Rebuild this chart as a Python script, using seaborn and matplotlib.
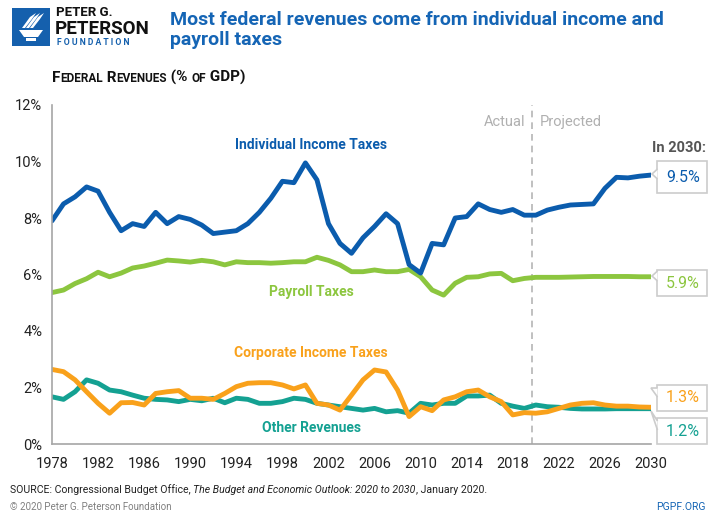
import numpy as np
import pandas as pd
import seaborn as sns
import matplotlib.pyplot as plt
from matplotlib.patches import Rectangle, Polygon

# --- Data (% of GDP) ---
years = list(range(1978, 2031))

individual = [7.9, 8.5, 8.75, 9.1, 8.95, 8.2, 7.55, 7.8, 7.7, 8.2, 7.8, 8.05, 7.95, 7.75,
              7.45, 7.5, 7.55, 7.8, 8.2, 8.7, 9.3, 9.25, 9.95, 9.35, 7.8, 7.1, 6.75,
              7.3, 7.7, 8.15, 7.8, 6.35, 6.05, 7.1, 7.05, 8.0, 8.05, 8.5, 8.3, 8.2,
              8.3, 8.1, 8.1, 8.28, 8.38, 8.46, 8.48, 8.5, 9.05, 9.44, 9.42, 9.48, 9.52]

payroll = [5.36, 5.45, 5.68, 5.85, 6.08, 5.92, 6.05, 6.23, 6.3, 6.4, 6.51, 6.48, 6.44, 6.5,
           6.45, 6.34, 6.45, 6.42, 6.42, 6.4, 6.42, 6.45, 6.45, 6.61, 6.5, 6.34, 6.1,
           6.1, 6.16, 6.1, 6.1, 6.18, 5.92, 5.45, 5.27, 5.69, 5.9, 5.92, 6.02, 6.04,
           5.78, 5.86, 5.9, 5.9, 5.9, 5.91, 5.92, 5.93, 5.93, 5.93, 5.93, 5.92, 5.92]

corporate = [2.64, 2.56, 2.27, 1.85, 1.44, 1.09, 1.46, 1.47, 1.38, 1.79, 1.85, 1.89, 1.62, 1.62,
             1.58, 1.79, 2.03, 2.15, 2.17, 2.17, 2.09, 1.95, 2.09, 1.44, 1.38, 1.2, 1.73,
             2.27, 2.62, 2.55, 1.91, 0.97, 1.32, 1.18, 1.56, 1.67, 1.85, 1.91, 1.67, 1.5,
             1.03, 1.11, 1.09, 1.14, 1.26, 1.38, 1.44, 1.46, 1.38, 1.34, 1.34, 1.31, 1.3]

other = [1.67, 1.58, 1.85, 2.27, 2.15, 1.91, 1.85, 1.73, 1.62, 1.58, 1.56, 1.5, 1.58, 1.53,
         1.62, 1.46, 1.62, 1.58, 1.44, 1.44, 1.5, 1.62, 1.58, 1.44, 1.38, 1.32, 1.26,
         1.2, 1.26, 1.14, 1.18, 1.09, 1.44, 1.38, 1.44, 1.44, 1.7, 1.7, 1.73, 1.44,
         1.34, 1.26, 1.38, 1.32, 1.3, 1.26, 1.24, 1.24, 1.24, 1.25, 1.25, 1.25, 1.25]

series_names = ['Individual Income Taxes', 'Payroll Taxes', 'Corporate Income Taxes', 'Other Revenues']
end_labels = ['9.5%', '5.9%', '1.3%', '1.2%']
x_ticks = list(range(1978, 2031, 4))
y_ticks = [0, 2, 4, 6, 8, 10, 12]
split_year = 2019.7

BLUE = '#0b5cad'
GREEN = '#8cc63f'
ORANGE = '#f9a11b'
TEAL = '#14a192'
GRAY = '#a6a6a6'
colors = {series_names[0]: BLUE, series_names[1]: GREEN,
          series_names[2]: ORANGE, series_names[3]: TEAL}

df = pd.DataFrame({'year': years * 4,
                   'value': individual + payroll + corporate + other,
                   'series': np.repeat(series_names, len(years))})

sns.set_style('white')
plt.rcParams['font.family'] = ['Roboto', 'DejaVu Sans']

W, H = 711, 513
fig = plt.figure(figsize=(W / 100, H / 100), dpi=100)


def fx(px):
    return px / W


def fy(py):
    return 1 - py / H


ax = fig.add_axes([fx(52), fy(444), fx(651) - fx(52), fy(105) - fy(444)])

# draw order: teal/orange underneath like the reference
for name in [series_names[3], series_names[2], series_names[1], series_names[0]]:
    sns.lineplot(data=df[df['series'] == name], x='year', y='value', color=colors[name],
                 linewidth=3.5, ax=ax, legend=False, solid_capstyle='round',
                 solid_joinstyle='round')

ax.axvline(split_year, color='#b5b5b5', linestyle=(0, (4, 3)), linewidth=1.2, zorder=0)

ax.set_xlim(1978, 2030)
ax.set_ylim(0, 12)
ax.set_xticks(x_ticks)
ax.set_yticks(y_ticks)
ax.set_yticklabels([f'{v}%' for v in y_ticks])
ax.set_xlabel('')
ax.set_ylabel('')
for s in ['top', 'right']:
    ax.spines[s].set_visible(False)
for s in ['left', 'bottom']:
    ax.spines[s].set_color(GRAY)
    ax.spines[s].set_linewidth(1.2)
ax.tick_params(axis='both', direction='out', length=4, width=1, color=GRAY,
               labelsize=10.5, labelcolor='#222222', pad=3)
ax.tick_params(axis='x', pad=5)

# series labels
ax.text(2000.5, 10.58, 'Individual Income Taxes', color=BLUE, fontsize=10, weight='bold',
        ha='center', va='center')
ax.text(2000.5, 5.38, 'Payroll Taxes', color=GREEN, fontsize=10, weight='bold',
        ha='center', va='center')
ax.text(2000.5, 3.22, 'Corporate Income Taxes', color=ORANGE, fontsize=10, weight='bold',
        ha='center', va='center')
ax.text(2000.5, 0.57, 'Other Revenues', color=TEAL, fontsize=10, weight='bold',
        ha='center', va='center')
ax.text(split_year - 0.6, 11.4, 'Actual', color='#b0b0b0', fontsize=10.5, ha='right', va='center')
ax.text(split_year + 0.6, 11.4, 'Projected', color='#b0b0b0', fontsize=10.5, ha='left', va='center')

fig.text(fx(706), fy(148), 'In 2030:', color='#555555', fontsize=10.5, weight='bold',
         ha='right', va='center')

# end-value callout boxes: (top, bottom, pointer tip y, pointer side)
boxes = [(161, 193, 174, 'mid'), (270, 296, 276, 'mid'), (385, 411, 392, 'up'), (418, 444, 415, 'up')]
box_colors = [BLUE, GREEN, ORANGE, TEAL]
for (top, bot, tip, kind), lab, col in zip(boxes, end_labels, box_colors):
    x0, x1 = 657, 707
    fig.patches.append(Rectangle((fx(x0), fy(bot)), fx(x1) - fx(x0), fy(top) - fy(bot),
                                 transform=fig.transFigure, facecolor='white',
                                 edgecolor='#cccccc', linewidth=1.2, zorder=5))
    if kind == 'mid':
        pts = [(fx(x0 + 0.5), fy(tip - 5)), (fx(x0 - 5), fy(tip)), (fx(x0 + 0.5), fy(tip + 5))]
    else:
        pts = [(fx(x0 + 0.5), fy(top + 3)), (fx(x0 - 6), fy(tip - 4)), (fx(x0 + 0.5), fy(top + 12))]
    fig.patches.append(Polygon(pts, closed=False, transform=fig.transFigure, facecolor='white',
                               edgecolor='#cccccc', linewidth=1.2, zorder=6))
    fig.text(fx((x0 + x1) / 2 + 1), fy((top + bot) / 2), lab, color=col, fontsize=11.5,
             ha='center', va='center', zorder=7)

# title
fig.text(fx(170), fy(30), 'Most federal revenues come from individual income and\npayroll taxes',
         color='#1565b5', fontsize=14, weight='bold', ha='left', va='center', linespacing=1.2)

# logo
fig.patches.append(Rectangle((fx(12), fy(46)), fx(38), fy(8) - fy(46), transform=fig.transFigure,
                             facecolor='#1560ad', edgecolor='none'))
cup = [(19, 30), (43, 30), (38, 37), (24, 37)]
fig.patches.append(Polygon([(fx(a), fy(b)) for a, b in cup], transform=fig.transFigure,
                           facecolor='white', edgecolor='none'))
fig.patches.append(Rectangle((fx(26), fy(41)), fx(10), fy(38) - fy(41), transform=fig.transFigure,
                             facecolor='white', edgecolor='none'))
for dx in [0, 4, 8]:
    flame = [(22 + dx, 28), (30 + dx, 17), (36 + dx, 13), (32 + dx, 19), (25 + dx, 28)]
    fig.patches.append(Polygon([(fx(a), fy(b)) for a, b in flame], transform=fig.transFigure,
                               facecolor='white', edgecolor='none'))
fig.text(fx(56), fy(12), 'PETER G.', fontsize=9.5, weight='bold', color='#111111', va='center')
fig.text(fx(55), fy(29), 'PETERSON', fontsize=13.5, weight='bold', color='#111111', va='center')
fig.text(fx(57), fy(43), 'F O U N D A T I O N', fontsize=6.2, weight='bold', color='#1560ad',
         va='center')

# small-caps subtitle and footer built piece by piece
renderer = fig.canvas.get_renderer()


def run_text(x_px, y_px, pieces, **kw):
    x = fx(x_px)
    for txt, size, extra in pieces:
        t = fig.text(x, fy(y_px), txt, fontsize=size, va='baseline', **kw, **extra)
        bb = t.get_window_extent(renderer)
        x += bb.width / W


run_text(52, 82, [('F', 11, {}), ('EDERAL', 8.5, {}), (' R', 11, {}), ('EVENUES', 8.5, {}),
                  (' (% ', 11, {}), ('OF', 8.5, {}), (' GDP)', 11, {})],
         weight='bold', color='#111111')

run_text(10, 493, [('SOURCE: Congressional Budget Office, ', 7.6, {}),
                   ('The Budget and Economic Outlook: 2020 to 2030', 7.6, {'style': 'italic'}),
                   (', January 2020.', 7.6, {})], color='#222222')

fig.text(fx(10), fy(507), '\u00a9 2020 Peter G. Peterson Foundation', fontsize=7, color='#808080',
         va='center')
fig.text(fx(706), fy(507), 'PGPF.ORG', fontsize=7.5, color='#1565b5', ha='right', va='center')

fig.savefig('out.png', dpi=100)
